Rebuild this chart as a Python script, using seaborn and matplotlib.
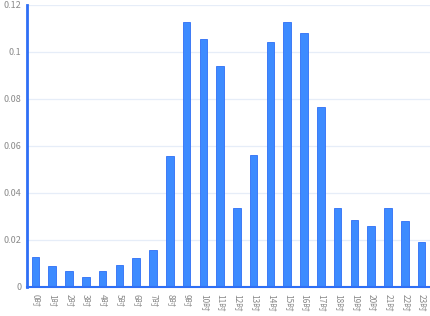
import matplotlib
matplotlib.use("Agg")
import matplotlib.pyplot as plt
import seaborn as sns
import numpy as np
import pandas as pd

hours = [f"{i}时" for i in range(24)]
values = [0.0126, 0.0089, 0.0067, 0.0041, 0.0066, 0.0094, 0.0124, 0.0156,
          0.0555, 0.1125, 0.1055, 0.0940, 0.0336, 0.0560, 0.1040, 0.1125,
          0.1078, 0.0765, 0.0336, 0.0283, 0.0258, 0.0336, 0.0278, 0.0189]
yticks = [0, 0.02, 0.04, 0.06, 0.08, 0.1, 0.12]
ytick_labels = ["0", "0.02", "0.04", "0.06", "0.08", "0.1", "0.12"]

sns.set_theme(style="white")
plt.rcParams['font.family'] = ['Noto Sans CJK SC', 'DejaVu Sans']

df = pd.DataFrame({"hour": hours, "value": values})

fig = plt.figure(figsize=(4.3, 3.16), dpi=100)
ax = fig.add_axes([0.0628, 0.0927, 0.9372, 0.8923])

sns.barplot(data=df, x="hour", y="value", ax=ax, color="#3d8bff",
            width=0.45, saturation=1, edgecolor="#2f6ff5", linewidth=0.6)

ax.set_xlim(-0.5, 23.5)
ax.set_ylim(0, 0.12)
ax.set_yticks(yticks)
ax.set_yticklabels(ytick_labels)
ax.set_xlabel("")
ax.set_ylabel("")
ax.grid(axis="y", color="#e6edf8", linewidth=0.9)
ax.set_axisbelow(True)

for s in ["top", "right"]:
    ax.spines[s].set_visible(False)
ax.spines["left"].set_color("#2f6ff5")
ax.spines["left"].set_linewidth(2.0)
ax.spines["bottom"].set_color("#2f6ff5")
ax.spines["bottom"].set_linewidth(1.5)

ax.tick_params(axis="y", length=0, labelsize=6.5, labelcolor="#8a8a8a", pad=4)
ax.tick_params(axis="x", which="major", length=0, labelsize=6, labelcolor="#8a8a8a",
               pad=5, labelrotation=-90)
ax.set_xticks(np.arange(-0.5, 24, 1), minor=True)
ax.tick_params(axis="x", which="minor", length=3, color="#2f6ff5", width=1)

fig.savefig("out.png", dpi=100)
